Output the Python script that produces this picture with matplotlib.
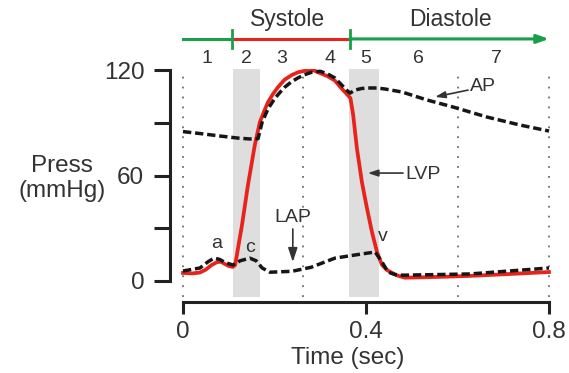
import matplotlib.pyplot as plt

plt.rcParams['font.family'] = ['Liberation Sans', 'DejaVu Sans']

TEXT = '#333333'
RED = '#e8231c'
GREEN = '#1a9e4a'

# left ventricular pressure (time s, mmHg)
lvp_t = [0.000, 0.020, 0.037, 0.050, 0.062, 0.075, 0.083, 0.092, 0.100, 0.109, 0.114,
         0.129, 0.142, 0.157, 0.168, 0.178, 0.186, 0.197, 0.208, 0.222, 0.238, 0.252,
         0.267, 0.284, 0.299, 0.316, 0.332, 0.345, 0.354, 0.361, 0.366, 0.372, 0.380,
         0.391, 0.402, 0.413, 0.424, 0.435, 0.446, 0.457, 0.470, 0.485, 0.525, 0.580,
         0.627, 0.700, 0.800]
lvp_p = [4.6, 4.3, 4.8, 6.5, 9.0, 10.8, 10.9, 9.6, 8.5, 8.0, 9.1,
         31.9, 54.6, 77.4, 90.4, 97.0, 101.8, 106.5, 110.4, 114.5, 117.2, 118.8,
         119.6, 120.0, 118.3, 116.5, 114.0, 110.0, 107.5, 105.5, 104.0, 94.4, 75.7,
         56.3, 41.5, 27.9, 16.5, 9.1, 6.2, 4.6, 3.0, 1.9, 2.1, 2.5,
         2.9, 3.8, 5.1]

# aortic pressure
ap_t = [0.000, 0.040, 0.080, 0.120, 0.146, 0.164, 0.173, 0.186, 0.201, 0.212, 0.223,
        0.237, 0.251, 0.265, 0.282, 0.300, 0.316, 0.332, 0.345, 0.358, 0.365, 0.376,
        0.390, 0.404, 0.424, 0.442, 0.479, 0.533, 0.590, 0.664, 0.737, 0.800]
ap_p = [85.0, 83.8, 82.5, 81.3, 80.8, 81.0, 90.4, 98.0, 104.0, 107.3, 110.4,
        113.3, 115.5, 117.3, 118.8, 119.3, 117.8, 115.5, 112.0, 108.5, 106.9, 108.6,
        109.5, 109.8, 109.8, 109.2, 107.5, 103.0, 99.0, 93.3, 88.7, 85.3]

# left atrial pressure
lap_t = [0.000, 0.037, 0.055, 0.068, 0.080, 0.092, 0.109, 0.125, 0.146, 0.160, 0.173,
         0.190, 0.238, 0.280, 0.332, 0.376, 0.420, 0.435, 0.448, 0.465, 0.480, 0.627, 0.800]
lap_p = [5.7, 7.4, 11.0, 13.0, 12.3, 10.5, 9.1, 11.5, 13.0, 11.5, 7.4,
         5.0, 5.5, 7.8, 13.0, 14.8, 16.5, 10.8, 5.1, 3.5, 3.3, 4.0, 7.4]

shaded = [(0.109, 0.168), (0.362, 0.429)]
dotted = [0.0, 0.263, 0.6, 0.8]
phase_labels = ['1', '2', '3', '4', '5', '6', '7']
phase_x = [0.052, 0.138, 0.216, 0.321, 0.400, 0.514, 0.686]
systole = (0.107, 0.364)

fig = plt.figure(figsize=(5.69, 3.73), dpi=100)
ax = fig.add_axes([170 / 569, 71 / 373, 390 / 569, 233 / 373])
ax.set_xlim(-0.0284, 0.824)
ax.set_ylim(-11.95, 120.6)

for x0, x1 in shaded:
    ax.axvspan(x0, x1, ymin=0.021, ymax=1, color='#dedede', lw=0, zorder=0)
for x in dotted:
    ax.axvline(x, ymin=0.021, ymax=1, color='#555555', lw=1.1,
               ls=(0, (1.2, 5.3)), zorder=1)

ax.plot(lvp_t, lvp_p, color=RED, lw=2.7, zorder=3, solid_joinstyle='round')
ax.plot(ap_t, ap_p, color='#161616', lw=2.5, dashes=(2.4, 1.1), zorder=4)
ax.plot(lap_t, lap_p, color='#161616', lw=2.5, dashes=(2.4, 1.1), zorder=4)

# spines and ticks
for s in ['top', 'right']:
    ax.spines[s].set_visible(False)
ax.spines['left'].set_bounds(0, 120)
ax.spines['bottom'].set_bounds(0, 0.8)
for s in ['left', 'bottom']:
    ax.spines[s].set_linewidth(2.2)
    ax.spines[s].set_color('#222222')
ax.set_yticks([0, 60, 120])
ax.set_yticks([30, 90], minor=True)
ax.set_xticks([0, 0.4, 0.8])
ax.set_xticklabels(['0', '0.4', '0.8'])
ax.tick_params(axis='y', which='both', length=11.5, width=2.2, color='#222222', pad=7)
ax.tick_params(axis='x', length=8.5, width=2.2, color='#222222', pad=5)
ax.tick_params(labelsize=17.5, labelcolor=TEXT)

ax.set_xlabel('Time (sec)', fontsize=17.5, color=TEXT, va='center')
ax.xaxis.set_label_coords(0.456, -0.24)
ax.set_ylabel('Press\n(mmHg)', fontsize=17.5, color=TEXT, rotation=0,
              ha='center', va='center', linespacing=1.2)
ax.yaxis.set_label_coords(-0.277, 0.53)

# phase bar on top
yb = 137.7
ax.plot([0, systole[0]], [yb, yb], color=GREEN, lw=2.2, clip_on=False)
ax.plot([systole[0], systole[1]], [yb, yb], color=RED, lw=2.2, clip_on=False)
ax.annotate('', xy=(0.8, yb), xytext=(systole[1], yb), annotation_clip=False,
            arrowprops=dict(arrowstyle='-|>,head_length=0.7,head_width=0.25',
                            color=GREEN, lw=2.2, shrinkA=0, shrinkB=0))
for x in systole:
    ax.plot([x, x], [132.5, 142.8], color=GREEN, lw=2, clip_on=False)
ax.text(0.228, 148.5, 'Systole', fontsize=16.5, color=TEXT, ha='center', va='center')
ax.text(0.584, 148.5, 'Diastole', fontsize=16.5, color=TEXT, ha='center', va='center')
for lab, x in zip(phase_labels, phase_x):
    ax.text(x, 126.5, lab, fontsize=14, color=TEXT, ha='center', va='center')

# annotations
small = dict(fontsize=14, color=TEXT, ha='center', va='center')
ax.text(0.074, 21.6, 'a', **small)
ax.text(0.146, 19.3, 'c', **small)
ax.text(0.437, 25.5, 'v', **small)
arrow = dict(arrowstyle='-|>,head_length=0.6,head_width=0.2', color=TEXT, lw=1.2,
             shrinkA=0, shrinkB=0)
ax.annotate('LAP', xy=(0.240, 10.8), xytext=(0.240, 36), arrowprops=arrow, **small)
ax.annotate('', xy=(0.404, 61.4), xytext=(0.481, 61.4), arrowprops=arrow)
ax.text(0.486, 60.3, 'LVP', fontsize=14, color=TEXT, ha='left', va='center')
ax.annotate('', xy=(0.551, 104.7), xytext=(0.623, 108.6), arrowprops=arrow)
ax.text(0.627, 110.4, 'AP', fontsize=14, color=TEXT, ha='left', va='center')

fig.savefig('out.png', dpi=100)
